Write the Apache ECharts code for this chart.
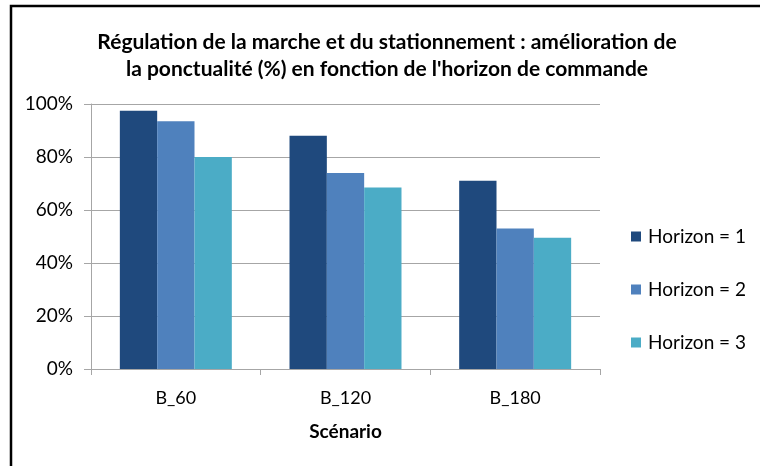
<!DOCTYPE html>
<html>
<head>
<meta charset="utf-8">
<script src="https://cdn.jsdelivr.net/npm/echarts@6/dist/echarts.min.js"></script>
<style>
  html, body { margin: 0; padding: 0; background: #fff; }
  #chart { width: 760px; height: 466px; }
</style>
</head>
<body>
<div id="chart"></div>
<script>
// Scenarios and punctuality improvement (%) per control horizon
const scenarios = ['B_60', 'B_120', 'B_180'];
const horizon1 = [97.5, 88, 71];
const horizon2 = [93.5, 74, 53];
const horizon3 = [80, 68.5, 49.5];
const seriesNames = ['Horizon = 1', 'Horizon = 2', 'Horizon = 3'];
const yTicks = [0, 20, 40, 60, 80, 100];

const colors = ['#1F497D', '#4F81BD', '#4BACC6'];
const font = 'Lato, "Open Sans", sans-serif';

const chart = echarts.init(document.getElementById('chart'), null, { renderer: 'canvas' });

const values = [horizon1, horizon2, horizon3];

chart.setOption({
  animation: false,
  backgroundColor: '#fff',
  title: {
    text: 'Régulation de la marche et du stationnement : amélioration de\nla ponctualité (%) en fonction de l\'horizon de commande',
    left: 382,
    textAlign: 'center',
    top: 24,
    padding: 5,
    textStyle: {
      fontFamily: font,
      fontSize: 21,
      fontWeight: 'bold',
      color: '#000',
      lineHeight: 27
    }
  },
  legend: {
    orient: 'vertical',
    left: 631,
    top: 227,
    padding: 0,
    itemWidth: 10,
    itemHeight: 10,
    itemGap: 34,
    icon: 'rect',
    data: seriesNames,
    textStyle: { fontFamily: font, fontSize: 19, color: '#000', padding: [0, 0, 0, 2] }
  },
  grid: { left: 91, right: 160, top: 104, bottom: 97 },
  xAxis: {
    type: 'category',
    data: scenarios,
    name: 'Scénario',
    nameLocation: 'middle',
    nameGap: 53,
    nameTextStyle: { fontFamily: font, fontSize: 19, fontWeight: 'bold', color: '#000' },
    axisLine: { lineStyle: { color: '#A6A6A6', width: 1 } },
    axisTick: { show: true, length: 6, lineStyle: { color: '#A6A6A6' } },
    axisLabel: { fontFamily: font, fontSize: 18, color: '#000', margin: 20 }
  },
  yAxis: {
    type: 'value',
    min: yTicks[0],
    max: yTicks[yTicks.length - 1],
    interval: yTicks[1] - yTicks[0],
    axisLine: { show: true, lineStyle: { color: '#A6A6A6', width: 1 } },
    axisTick: { show: true, length: 7, lineStyle: { color: '#A6A6A6' } },
    splitLine: { show: true, lineStyle: { color: '#A6A6A6', width: 1 } },
    axisLabel: { fontFamily: font, fontSize: 19, color: '#000', margin: 18, formatter: '{value}%' }
  },
  series: seriesNames.map((name, i) => ({
    name: name,
    type: 'bar',
    data: values[i],
    barCategoryGap: '34%',
    barGap: '0%',
    itemStyle: { color: colors[i] }
  })),
  graphic: [{
    type: 'rect',
    shape: { x: 11, y: 6, width: 800, height: 520 },
    style: { fill: null, stroke: '#000', lineWidth: 2.5 },
    silent: true
  }]
});
</script>
</body>
</html>
